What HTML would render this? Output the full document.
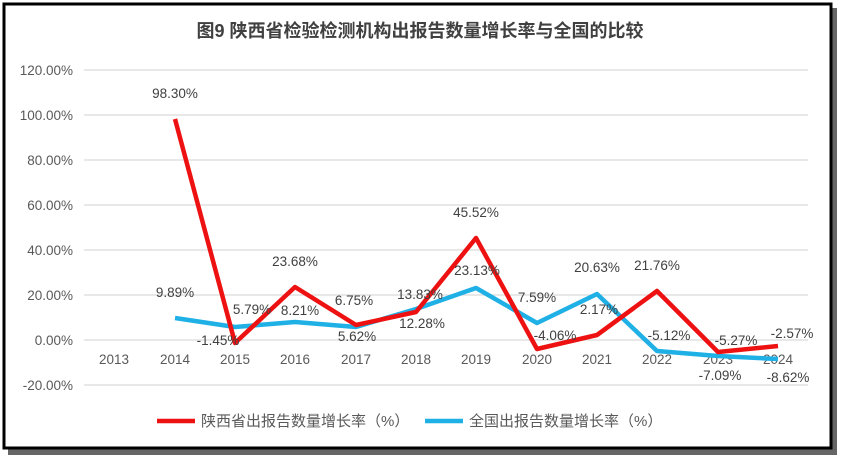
<!DOCTYPE html>
<html><head><meta charset="utf-8"><style>
body{margin:0;background:#fff;}
svg{display:block;font-family:"Liberation Sans","Noto Sans CJK SC",sans-serif;}
</style></head><body>
<svg width="841" height="461" viewBox="0 0 841 461">
<rect x="8" y="8" width="829" height="447" fill="#666"/>
<rect x="4" y="4" width="827" height="444" fill="#fff" stroke="#000" stroke-width="3"/>
<text x="420" y="37" text-anchor="middle" font-size="18" font-weight="bold" fill="#404040">图9  陕西省检验检测机构出报告数量增长率与全国的比较</text>
<g stroke="#d9d9d9" stroke-width="1.2">
<line x1="84" x2="808" y1="70" y2="70"/><line x1="84" x2="808" y1="115" y2="115"/>
<line x1="84" x2="808" y1="160" y2="160"/><line x1="84" x2="808" y1="205" y2="205"/>
<line x1="84" x2="808" y1="250" y2="250"/><line x1="84" x2="808" y1="295" y2="295"/>
<line x1="84" x2="808" y1="340" y2="340"/><line x1="84" x2="808" y1="385" y2="385"/>
</g>
<g font-size="13.5" fill="#595959" text-anchor="end">
<text x="73" y="75">120.00%</text><text x="73" y="120">100.00%</text><text x="73" y="165">80.00%</text>
<text x="73" y="210">60.00%</text><text x="73" y="255">40.00%</text><text x="73" y="300">20.00%</text>
<text x="73" y="345">0.00%</text><text x="73" y="390">-20.00%</text>
</g>
<g font-size="13.5" fill="#595959" text-anchor="middle">
<text x="114" y="364">2013</text><text x="175" y="364">2014</text><text x="235" y="364">2015</text>
<text x="295" y="364">2016</text><text x="356" y="364">2017</text><text x="416" y="364">2018</text>
<text x="476" y="364">2019</text><text x="537" y="364">2020</text><text x="597" y="364">2021</text>
<text x="657" y="364">2022</text><text x="718" y="364">2023</text><text x="778" y="364">2024</text>
</g>
<polyline fill="none" stroke="#1fb0e6" stroke-width="4.5" stroke-linejoin="round" points="175,318 235,327 295,322 356,327 416,309 476,288 537,323 597,294 657,351 718,356 778,359"/>
<polyline fill="none" stroke="#ee1111" stroke-width="4.5" stroke-linejoin="round" points="175,119 235,343 295,287 356,325 416,312 476,238 537,349 597,335 657,291 718,352 778,346"/>
<g font-size="13.5" fill="#404040" text-anchor="middle">
<text x="175" y="98">98.30%</text><text x="175" y="297">9.89%</text>
<text x="218" y="345">-1.45%</text><text x="252" y="314">5.79%</text>
<text x="295" y="266">23.68%</text><text x="300" y="315">8.21%</text>
<text x="354" y="305">6.75%</text><text x="357" y="341">5.62%</text>
<text x="420" y="299">13.83%</text><text x="422" y="328">12.28%</text>
<text x="476" y="217">45.52%</text><text x="477" y="275">23.13%</text>
<text x="537" y="302">7.59%</text><text x="555" y="340">-4.06%</text>
<text x="597" y="272">20.63%</text><text x="599" y="314">2.17%</text>
<text x="657" y="270">21.76%</text><text x="669" y="340">-5.12%</text>
<text x="736" y="345">-5.27%</text><text x="720" y="380">-7.09%</text>
<text x="792" y="338">-2.57%</text><text x="788" y="382">-8.62%</text>
</g>
<line x1="157" x2="195" y1="421" y2="421" stroke="#ee1111" stroke-width="4.5"/>
<text x="201" y="426" font-size="15" fill="#595959">陕西省出报告数量增长率（%）</text>
<line x1="425" x2="463" y1="421" y2="421" stroke="#1fb0e6" stroke-width="4.5"/>
<text x="469" y="426" font-size="15" fill="#595959">全国出报告数量增长率（%）</text>
</svg>
</body></html>
